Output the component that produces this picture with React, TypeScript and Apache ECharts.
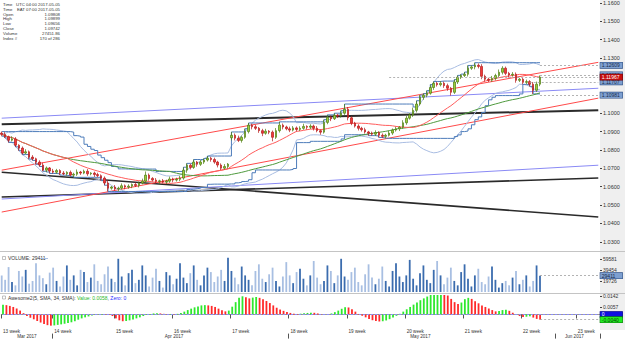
import React, { useEffect, useRef } from "react";
import * as echarts from "echarts";

// ---- data ----
const closes = [
  1.0885, 1.0872, 1.0853, 1.0860, 1.0826, 1.0810, 1.0783, 1.0790, 1.0761, 1.0752,
  1.0734, 1.0718, 1.0690, 1.0702, 1.0685, 1.0679, 1.0688, 1.0674, 1.0670, 1.0678,
  1.0663, 1.0668, 1.0680, 1.0674, 1.0684, 1.0670, 1.0674, 1.0666, 1.0660, 1.0647,
  1.0620, 1.0592, 1.0598, 1.0588, 1.0592, 1.0605, 1.0598, 1.0603, 1.0612, 1.0606,
  1.0620, 1.0630, 1.0663, 1.0645, 1.0636, 1.0628, 1.0632, 1.0625, 1.0630, 1.0642,
  1.0636, 1.0640, 1.0647, 1.0690, 1.0717, 1.0705, 1.0734, 1.0722, 1.0734, 1.0745,
  1.0755, 1.0748, 1.0734, 1.0718, 1.0701, 1.0710, 1.0723, 1.0880, 1.0864, 1.0852,
  1.0869, 1.0900, 1.0935, 1.0926, 1.0918, 1.0905, 1.0891, 1.0902, 1.0897, 1.0869,
  1.0905, 1.0935, 1.0925, 1.0915, 1.0908, 1.0920, 1.0912, 1.0918, 1.0928, 1.0924,
  1.0930, 1.0918, 1.0905, 1.0897, 1.0950, 1.0978, 1.0970, 1.0989, 1.0985, 1.1000,
  1.1022, 1.0975, 1.0946, 1.0930, 1.0918, 1.0910, 1.0898, 1.0891, 1.0886, 1.0895,
  1.0880, 1.0874, 1.0880, 1.0892, 1.0908, 1.0915, 1.0924, 1.0948, 1.0973, 1.0990,
  1.1016, 1.1050, 1.1087, 1.1098, 1.1109, 1.1140, 1.1163, 1.1155, 1.1163, 1.1150,
  1.1136, 1.1114, 1.1170, 1.1196, 1.1205, 1.1212, 1.1245, 1.1252, 1.1261, 1.1255,
  1.1201, 1.1185, 1.1180, 1.1190, 1.1205, 1.1223, 1.1245, 1.1217, 1.1208, 1.1212,
  1.1179, 1.1185, 1.1168, 1.1172, 1.1158, 1.1125, 1.1158, 1.1197,
];
const firstOpen = 1.0892;
const gapOpenIndex = [67];
const gapOpenValue = [1.0866];
// upper / lower wick lengths in pips
const hiWick = [
  8, 12, 6, 15, 10, 5, 9, 14, 7, 11,
  6, 10, 13, 8, 5, 12, 9, 7, 11, 6,
  10, 8, 14, 6, 9, 12, 5, 8, 10, 7,
  9, 15, 6, 11, 8, 13, 7, 10, 6, 12,
  8, 14, 20, 9, 7, 11, 6, 10, 8, 13,
  7, 9, 12, 16, 10, 8, 14, 6, 11, 9,
  12, 8, 10, 7, 9, 13, 6, 18, 10, 14,
  9, 16, 12, 8, 11, 7, 10, 13, 6, 9,
  14, 18, 9, 7, 12, 10, 8, 11, 15, 6,
  10, 8, 12, 7, 15, 13, 9, 11, 8, 14,
  28, 12, 9, 7, 10, 8, 11, 6, 9, 12,
  7, 10, 8, 12, 9, 11, 6, 14, 12, 10,
  15, 18, 12, 9, 14, 16, 10, 8, 12, 9,
  11, 7, 13, 10, 8, 12, 15, 9, 14, 10,
  12, 9, 8, 13, 10, 15, 11, 9, 8, 12,
  10, 7, 9, 11, 8, 12, 14, 9,
];
const loWick = [
  10, 7, 12, 6, 9, 14, 8, 6, 11, 9,
  12, 8, 6, 10, 13, 7, 9, 11, 8, 10,
  7, 12, 9, 10, 6, 11, 8, 13, 9, 14,
  12, 18, 8, 10, 14, 7, 12, 9, 11, 8,
  10, 7, 9, 12, 8, 11, 14, 7, 10, 9,
  12, 8, 10, 9, 14, 11, 8, 13, 9, 10,
  8, 12, 9, 13, 10, 7, 11, 14, 12, 9,
  12, 8, 10, 14, 9, 12, 16, 8, 11, 22,
  9, 10, 13, 8, 11, 7, 12, 9, 8, 13,
  10, 12, 9, 14, 8, 10, 13, 7, 11, 9,
  9, 14, 11, 8, 12, 10, 9, 13, 8, 10,
  12, 9, 11, 7, 10, 8, 12, 9, 11, 8,
  10, 12, 9, 14, 11, 8, 13, 10, 9, 12,
  14, 18, 9, 11, 10, 8, 12, 9, 13, 11,
  16, 12, 10, 9, 11, 8, 12, 10, 14, 9,
  13, 9, 11, 10, 12, 20, 9, 11,
];
// volume in thousands
const volumes = [
  30, 22, 45, 18, 12, 38, 28, 40, 15, 20,
  52, 30, 25, 14, 35, 44, 20, 10, 28, 48,
  22, 30, 12, 40, 36, 18, 26, 50, 20, 14,
  32, 46, 24, 18, 60, 28, 12, 34, 40, 16,
  22, 48, 30, 10, 26, 42, 20, 8, 36, 30,
  14, 24, 52, 26, 16, 34, 48, 22, 12, 30,
  44, 36, 18, 28, 40, 20, 62, 38, 26, 14,
  46, 30, 22, 12, 38, 50, 24, 18, 32, 44,
  20, 10, 28, 54, 30, 16, 36, 42, 24, 12,
  30, 56, 26, 14, 20, 48, 38, 16, 30, 60,
  28, 22, 36, 44, 18, 12, 32, 50, 26, 14,
  24, 46, 20, 10, 38, 52, 28, 18, 30, 58,
  24, 12, 34, 48, 22, 16, 40, 56, 30, 14,
  26, 44, 20, 12, 36, 50, 24, 10, 30, 42,
  18, 14, 28, 46, 22, 8, 16, 20, 12, 26,
  38, 14, 22, 30, 10, 20, 48, 29.411,
];
// Awesome oscillator values, in units of 0.0001
const aoValues = [
  75, 72, 66, 58, 46, 30, 10, -12, -25, -37,
  -50, -62, -74, -82, -86, -84, -80, -76, -72, -66,
  -60, -52, -40, -30, -22, -15, -8, -4, -2, 3,
  2, -2, -12, -30, -45, -52, -50, -45, -38, -30,
  -22, -12, -4, 3, 8, 10, 8, 5, 3, 4,
  2, 5, 12, 22, 34, 45, 55, 62, 70, 72,
  70, 66, 58, 45, 32, 24, 30, 60, 95, 128,
  140, 132, 124, 130, 135, 128, 118, 104, 88, 70,
  52, 38, 28, 20, 12, 6, 4, 6, 9, 12,
  14, 13, 8, 2, 0, 3, 8, 18, 30, 44,
  56, 54, 40, 22, 4, -10, -22, -34, -44, -50,
  -54, -52, -46, -36, -24, -10, 5, 22, 40, 58,
  76, 92, 110, 124, 138, 150, 158, 163, 165, 160,
  146, 120, 95, 80, 92, 118, 128, 120, 102, 86,
  70, 58, 46, 34, 24, 26, 34, 37, 28, 14,
  2, -12, -20, -17, -14, -24, -34, -40,
];

const slotCount = 175;
const priceTicks = [1.03, 1.04, 1.05, 1.06, 1.07, 1.08, 1.09, 1.1, 1.13, 1.14, 1.15, 1.16];
const volTicks = [19726, 39454, 59581];
const aoTicks = [0.0057, 0.0142];

const weekStarts = [0, 15, 33, 50, 67, 84, 101, 118, 135, 152, 168];
const weekNames = ["13 week", "14 week", "15 week", "16 week", "17 week", "18 week", "19 week", "20 week", "21 week", "22 week", "23 week"];
const monthTicks = [15, 84, 162];
const monthLabelAt = [7, 50, 122, 167];
const monthNames = ["Mar 2017", "Apr 2017", "May 2017", "Jun 2017"];

// trend lines: [price at slot 0, price at slot 174]
const blackTop = [1.0940, 1.1016];
const blackFalling = [1.0679, 1.0435];
const blackRising = [1.0544, 1.0647];
const blueTop = [1.0973, 1.1136];
const blueBottom = [1.0533, 1.0717];
const redUpper = [1.0690, 1.1277];
const redLower = [1.0462, 1.1082];

// right-side price levels
const levelPrices = [1.12609, 1.12092, 1.11707, 1.10981, 1.11967];
const levelStart = [157, 157, 154, 157, 113];
const levelText = ["1.12609", "1.12092", "1.11707", "1.10981", "1.11967"];

const infoLabels = ["Time", "Time", "Open", "High", "Low", "Close", "Volume", "Index #"];
const infoValues = ["UTC 04:00 2017-05-05", "EAT 07:00 2017-05-05", "1.09808", "1.09899", "1.09656", "1.09742", "27451.86", "170 of 286"];

const FONT = "Liberation Sans";

function sma(arr: number[], n: number) {
  return arr.map((_, i) => {
    const s = Math.max(0, i - n + 1);
    let t = 0;
    for (let k = s; k <= i; k++) t += arr[k];
    return t / (i - s + 1);
  });
}

export default function App() {
  const ref = useRef<HTMLDivElement>(null);
  useEffect(() => {
    document.body.style.margin = "0";
    const chart = echarts.init(ref.current!, null, { renderer: "svg" });
    const n = closes.length;
    const cats = Array.from({ length: slotCount }, (_, i) => String(i));
    const opens = closes.map((c, i) => {
      const g = gapOpenIndex.indexOf(i);
      if (g >= 0) return gapOpenValue[g];
      return i === 0 ? firstOpen : closes[i - 1];
    });
    const highs = closes.map((c, i) => Math.max(c, opens[i]) + hiWick[i] * 0.0001);
    const lows = closes.map((c, i) => Math.min(c, opens[i]) - loWick[i] * 0.0001);
    const candles = closes.map((c, i) => [opens[i], c, lows[i], highs[i]]);

    const ma20 = sma(closes, 20);
    const ma50 = sma(closes, 50);
    const bbU: number[] = [];
    const bbL: number[] = [];
    const dcU: number[] = [];
    const dcL: number[] = [];
    for (let i = 0; i < n; i++) {
      const s = Math.max(0, i - 19);
      let m = 0;
      for (let k = s; k <= i; k++) m += closes[k];
      m /= i - s + 1;
      let v = 0;
      for (let k = s; k <= i; k++) v += (closes[k] - m) ** 2;
      const sd = Math.sqrt(v / (i - s + 1));
      bbU.push(m + 2 * sd);
      bbL.push(m - 2 * sd);
      let hh = -Infinity, ll = Infinity;
      for (let k = s; k <= i; k++) {
        hh = Math.max(hh, highs[k]);
        ll = Math.min(ll, lows[k]);
      }
      dcU.push(hh);
      dcL.push(ll);
    }
    const ao = aoValues.map((v) => v * 0.0001);
    const aoLast = ao[ao.length - 1];

    const idx = (a: number[]) => a.map((v, i) => [i, v]);
    const trend = (p: number[], color: string, width: number) => ({
      type: "line",
      xAxisIndex: 0,
      yAxisIndex: 0,
      data: [[0, p[0]], [slotCount - 1, p[1]]],
      symbol: "none",
      silent: true,
      lineStyle: { color, width },
      z: 3,
    });
    const ind = (d: number[], color: string, step?: any) => ({
      type: "line",
      xAxisIndex: 0,
      yAxisIndex: 0,
      data: idx(d),
      symbol: "none",
      silent: true,
      step: step || false,
      lineStyle: { color, width: 1 },
      z: 3,
    });

    const boxLabel = (text: string, bg: string, fg: string, border: string) => ({
      show: true,
      position: "end",
      distance: 2,
      formatter: text,
      fontFamily: FONT,
      fontSize: 5,
      lineHeight: 5,
      color: fg,
      backgroundColor: bg,
      borderColor: border,
      borderWidth: 0.6,
      padding: [0.5, 1.5, 0, 1.5],
      width: 19,
      align: "left",
    });

    const levelLines = levelPrices.map((p, k) => {
      const isClose = k === 4;
      return [
        {
          coord: [levelStart[k], p],
          lineStyle: { color: "#a0a0a0", type: [2, 2], width: 0.8 },
          label: isClose
            ? boxLabel(levelText[k], "#c80f0f", "#ffffff", "#7a0000")
            : boxLabel(levelText[k], "#7d9fd0", "#1a2a48", "#2d4f86"),
        },
        { coord: [slotCount - 1, p] },
      ];
    });

    const axisTxt = { fontFamily: FONT, fontSize: 5.5, color: "#333" };

    const option: any = {
      animation: false,
      backgroundColor: "#ffffff",
      grid: [
        { left: 0, top: 0, width: 600, height: 250 },
        { left: 0, top: 253, width: 600, height: 39 },
        { left: 0, top: 295, width: 600, height: 35 },
      ],
      xAxis: [
        { type: "category", gridIndex: 0, data: cats, show: false },
        { type: "category", gridIndex: 1, data: cats, show: false },
        {
          type: "category",
          gridIndex: 2,
          data: cats,
          position: "bottom",
          axisLine: { lineStyle: { color: "#9a9a9a", width: 1 } },
          axisTick: {
            show: true,
            interval: (i: number) => weekStarts.includes(i),
            length: 4,
            lineStyle: { color: "#555" },
          },
          axisLabel: {
            ...axisTxt,
            fontSize: 4.6,
            lineHeight: 4.6,
            interval: (i: number) => weekStarts.includes(i),
            formatter: (_v: string, i: number) => weekNames[weekStarts.indexOf(i)] || "",
            align: "left",
            margin: 0.5,
          },
          splitLine: { show: false },
        },
        {
          type: "category",
          gridIndex: 2,
          data: cats,
          position: "bottom",
          offset: 4.5,
          axisLine: { show: false },
          axisTick: {
            show: true,
            interval: (i: number) => monthTicks.includes(i),
            length: 5,
            lineStyle: { color: "#555" },
          },
          axisLabel: {
            ...axisTxt,
            fontSize: 4.6,
            lineHeight: 4.6,
            interval: (i: number) => monthLabelAt.includes(i),
            formatter: (_v: string, i: number) => monthNames[monthLabelAt.indexOf(i)] || "",
            align: "center",
            margin: 0.6,
          },
          splitLine: { show: false },
        },
      ],
      yAxis: [
        {
          type: "value",
          gridIndex: 0,
          position: "right",
          min: 1.02554,
          max: 1.16141,
          axisLine: { show: false },
          axisTick: { show: true, customValues: priceTicks, length: 2, lineStyle: { color: "#444" } },
          axisLabel: { ...axisTxt, customValues: priceTicks, margin: 3, formatter: (v: number) => v.toFixed(4) },
          splitLine: { show: false },
        },
        {
          type: "value",
          gridIndex: 1,
          position: "right",
          min: 0,
          max: 70450,
          axisLine: { show: false },
          axisTick: { show: true, customValues: volTicks, length: 2, lineStyle: { color: "#444" } },
          axisLabel: { ...axisTxt, fontSize: 5, customValues: volTicks, margin: 3, formatter: (v: number) => String(Math.round(v)) },
          splitLine: { show: false },
        },
        {
          type: "value",
          gridIndex: 2,
          position: "right",
          min: -0.01125,
          max: 0.015,
          axisLine: { show: false },
          axisTick: { show: true, customValues: aoTicks, length: 2, lineStyle: { color: "#444" } },
          axisLabel: { ...axisTxt, fontSize: 5, customValues: aoTicks, margin: 3, formatter: (v: number) => v.toFixed(4) },
          splitLine: { show: false },
        },
      ],
      series: [
        trend(blackTop, "#2a2a2a", 2),
        trend(blackFalling, "#2a2a2a", 1.6),
        trend(blackRising, "#2a2a2a", 1.6),
        trend(blueTop, "#8a8af5", 1),
        trend(blueBottom, "#8a8af5", 1),
        trend(redUpper, "#ff4a4a", 1),
        trend(redLower, "#ff4a4a", 1),
        ind(bbU, "#a9bde2"),
        ind(bbL, "#a9bde2"),
        ind(dcU, "#4d7cba", "end"),
        ind(dcL, "#4d7cba", "end"),
        ind(ma50, "#4f9a3e"),
        ind(ma20, "#ff5c5c"),
        {
          type: "candlestick",
          xAxisIndex: 0,
          yAxisIndex: 0,
          data: candles,
          barWidth: 2,
          z: 5,
          itemStyle: {
            color: "#9ccc3c",
            color0: "#f03a3a",
            borderColor: "#4d7d10",
            borderColor0: "#b51a1a",
            borderWidth: 0.7,
          },
          markLine: {
            symbol: ["none", "none"],
            silent: true,
            animation: false,
            z: 10,
            data: levelLines,
          },
        },
        {
          type: "bar",
          xAxisIndex: 1,
          yAxisIndex: 1,
          barWidth: 1.8,
          data: volumes.map((v, i) => ({
            value: [i, v * 1000],
            itemStyle: { color: closes[i] >= opens[i] ? "#3b6cae" : "#a8bfe2" },
          })),
          markLine: {
            symbol: ["none", "none"],
            silent: true,
            animation: false,
            data: [
              [
                {
                  coord: [n - 1, volumes[n - 1] * 1000],
                  lineStyle: { color: "#a0a0a0", type: [2, 2], width: 0.8 },
                  label: boxLabel(String(Math.round(volumes[n - 1] * 1000)), "#7d9fd0", "#1a2a48", "#2d4f86"),
                },
                { coord: [slotCount - 1, volumes[n - 1] * 1000] },
              ],
            ],
          },
        },
        {
          type: "bar",
          xAxisIndex: 2,
          yAxisIndex: 2,
          barWidth: 1.8,
          data: ao.map((v, i) => ({
            value: [i, v],
            itemStyle: { color: i > 0 && v < ao[i - 1] ? "#ff2a2a" : "#2ee82e" },
          })),
          markLine: {
            symbol: ["none", "none"],
            silent: true,
            animation: false,
            data: [
              [
                {
                  coord: [0, 0],
                  lineStyle: { color: "#8c8cff", type: [2, 2], width: 1 },
                  label: boxLabel("0", "#1010e0", "#ffffff", "#000080"),
                },
                { coord: [slotCount - 1, 0] },
              ],
              [
                {
                  coord: [ao.length - 1, aoLast],
                  lineStyle: { color: "#a0a0a0", type: [2, 2], width: 0.8 },
                  label: boxLabel(aoLast.toFixed(4), "#22ee22", "#0a3a0a", "#0a7a0a"),
                },
                { coord: [slotCount - 1, aoLast] },
              ],
            ],
          },
        },
      ],
      graphic: [
        { type: "rect", z: -10, shape: { x: 600, y: 0, width: 25, height: 330 }, style: { fill: "#efefef" } },
        { type: "line", z: 1, shape: { x1: 0, y1: 251.5, x2: 625, y2: 251.5 }, style: { stroke: "#c4c4c4", lineWidth: 1 } },
        { type: "line", z: 1, shape: { x1: 0, y1: 293.5, x2: 625, y2: 293.5 }, style: { stroke: "#c4c4c4", lineWidth: 1 } },
        ...infoLabels.map((t, k) => ({
          type: "text",
          z: 20,
          x: 3,
          y: 2.5 + k * 4.8,
          style: { text: t, fontFamily: FONT, fontSize: 4.3, fill: "#333", verticalAlign: "top" },
        })),
        ...infoValues.map((t, k) => ({
          type: "text",
          z: 20,
          x: 60,
          y: 2.5 + k * 4.8,
          style: { text: t, fontFamily: FONT, fontSize: 4.3, fill: "#333", align: "right", verticalAlign: "top" },
        })),
        { type: "rect", z: 20, shape: { x: 2.5, y: 256.5, width: 3, height: 3 }, style: { fill: "#fff", stroke: "#999", lineWidth: 0.6 } },
        {
          type: "text",
          z: 20,
          x: 8,
          y: 255.8,
          style: { text: "VOLUME: 29411", fontFamily: FONT, fontSize: 5, fill: "#333", verticalAlign: "top" },
        },
        { type: "line", z: 20, shape: { x1: 40, y1: 258.5, x2: 48, y2: 258.5 }, style: { stroke: "#a8bfe2", lineWidth: 1 } },
        { type: "rect", z: 20, shape: { x: 2.5, y: 296, width: 3, height: 3 }, style: { fill: "#fff", stroke: "#999", lineWidth: 0.6 } },
        {
          type: "text",
          z: 20,
          x: 8,
          y: 295.3,
          style: {
            text: "{a|Awesome2(5, SMA, 34, SMA):} {g|Value: 0.0058}{a|,} {b|Zero: 0}",
            fontFamily: FONT,
            fontSize: 5,
            verticalAlign: "top",
            rich: {
              a: { fontFamily: FONT, fontSize: 5, fill: "#333" },
              g: { fontFamily: FONT, fontSize: 5, fill: "#1fb81f" },
              b: { fontFamily: FONT, fontSize: 5, fill: "#2a2aff" },
            },
          },
        },
      ],
    };
    chart.setOption(option);
    return () => chart.dispose();
  }, []);
  return <div ref={ref} style={{ width: 625, height: 339 }} />;
}
